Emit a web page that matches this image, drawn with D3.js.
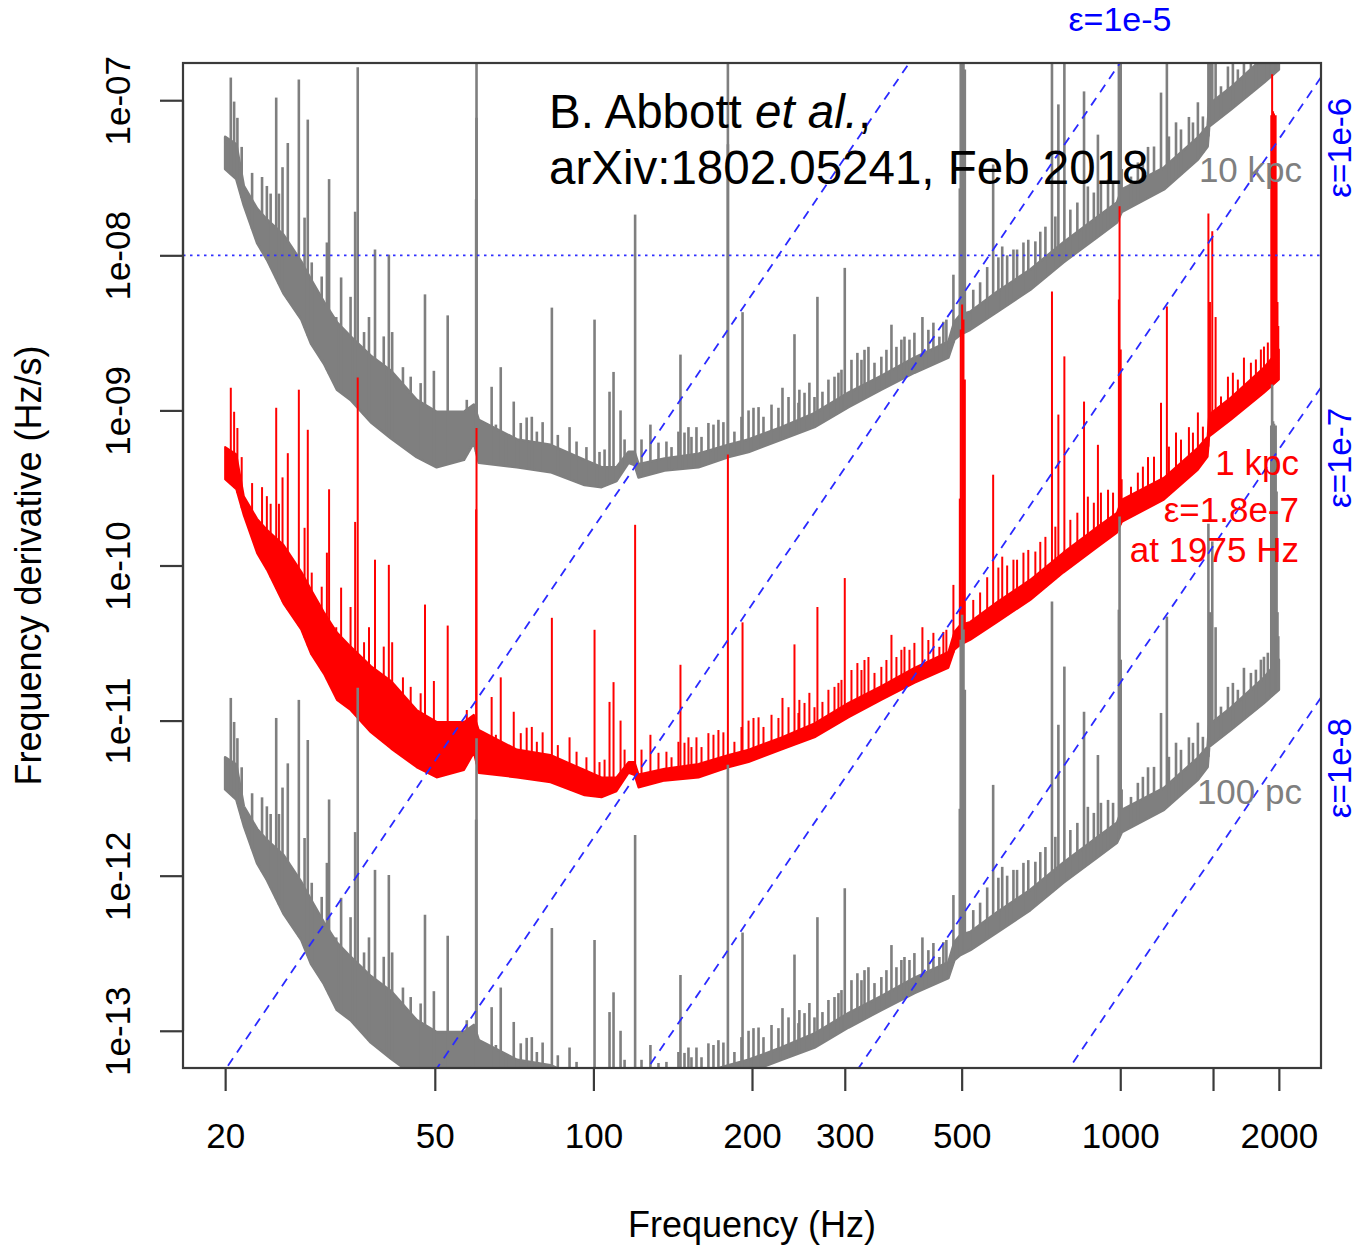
<!DOCTYPE html>
<html><head><meta charset="utf-8">
<script src="https://cdn.jsdelivr.net/npm/d3@7"></script>
<style>
body{margin:0;background:#fff}
text{font-family:"Liberation Sans",Arial,Helvetica,sans-serif}
</style>
</head><body>
<svg id="chart" width="1359" height="1245"></svg>
<script>
// ---------------- DATA ----------------
const xTicks = [20, 50, 100, 200, 300, 500, 1000, 1500, 2000];
const xTickLabels = ["20", "50", "100", "200", "300", "500", "1000", "", "2000"];
const yTicks = [1e-13, 1e-12, 1e-11, 1e-10, 1e-9, 1e-8, 1e-7];
const yTickLabels = ["1e-13", "1e-12", "1e-11", "1e-10", "1e-09", "1e-08", "1e-07"];

// 1 kpc curve: [frequency Hz, lower edge Hz/s, upper edge of noise band Hz/s]
const band1kpc = [
  [20.0, 3.6e-10, 5.8e-10], [21.0, 3.1e-10, 5.2e-10], [21.7, 2.1e-10, 2.8e-10],
  [23.0, 1.2e-10, 2.0e-10], [24.0, 9.4e-11, 1.7e-10], [25.8, 5.7e-11, 1.36e-10],
  [27.9, 3.85e-11, 9.1e-11], [29.1, 2.7e-11, 7.0e-11], [30.8, 2.0e-11, 5.0e-11],
  [32.6, 1.36e-11, 3.7e-11], [34.6, 1.17e-11, 3.0e-11], [37.8, 8.4e-12, 2.25e-11],
  [41.3, 6.6e-12, 1.8e-11], [46.2, 5.0e-12, 1.17e-11], [50.4, 4.3e-12, 9.8e-12],
  [56.8, 4.8e-12, 9.8e-12], [59.3, 6.2e-12, 1.09e-11], [60.6, 4.6e-12, 8.7e-12],
  [71.6, 4.3e-12, 6.5e-12], [82.9, 4.0e-12, 6.0e-12], [96.2, 3.3e-12, 4.8e-12],
  [103.6, 3.2e-12, 4.3e-12], [110.6, 3.5e-12, 4.3e-12], [116.6, 4.6e-12, 5.4e-12],
  [119.7, 4.45e-12, 5.4e-12], [121.8, 3.7e-12, 4.5e-12], [136.5, 4.1e-12, 4.9e-12],
  [158.3, 4.3e-12, 5.25e-12], [180.5, 5.0e-12, 6.0e-12], [197, 5.4e-12, 6.5e-12],
  [227.5, 6.5e-12, 7.8e-12], [262.8, 7.8e-12, 9.6e-12], [304.9, 1.05e-11, 1.3e-11],
  [352, 1.36e-11, 1.67e-11], [406.7, 1.75e-11, 2.19e-11], [471.8, 2.19e-11, 2.77e-11],
  [484.4, 2.86e-11, 3.73e-11], [497, 3.08e-11, 4.14e-11], [519, 3.31e-11, 4.33e-11],
  [584.6, 4.33e-11, 5.83e-11], [675, 6.0e-11, 8.1e-11], [779.6, 9.0e-11, 1.21e-10],
  [907, 1.32e-10, 1.78e-10], [985.7, 1.63e-10, 2.19e-10], [1007, 1.91e-10, 2.66e-10],
  [1210.6, 2.66e-10, 3.68e-10], [1404, 4.15e-10, 5.75e-10], [1465, 5.03e-10, 6.78e-10],
  [1475, 6.78e-10, 9.4e-10], [1622, 8.72e-10, 1.21e-9], [1874, 1.30e-9, 1.89e-9],
  [2000, 1.58e-9, 2.47e-9]
];

// 1 kpc curve: narrow spectral lines [frequency Hz, peak Hz/s]
const lines1kpc = [
  [20.5, 1.40e-9], [20.8, 9.8e-10], [21.1, 7.7e-10], [21.5, 5.0e-10], [22.5, 3.4e-10],
  [23.5, 3.2e-10], [24.0, 2.8e-10], [24.4, 2.5e-10], [25.0, 1.04e-9], [25.3, 2.5e-10],
  [25.7, 3.7e-10], [26.3, 5.3e-10], [27.6, 1.36e-9], [28.3, 1.75e-10], [28.7, 7.5e-10],
  [29.2, 9.0e-11], [30.5, 7.3e-11], [31.2, 1.21e-10], [31.5, 3.1e-10], [32.5, 4.0e-11],
  [33.2, 7.2e-11], [34.6, 5.4e-11], [35.3, 1.91e-10], [35.7, 1.63e-9], [36.7, 3.2e-11],
  [37.5, 4.0e-11], [38.5, 1.09e-10], [40.0, 3.0e-11], [40.9, 1.01e-10], [41.5, 3.2e-11],
  [43.5, 1.9e-11], [45.0, 1.65e-11], [47.0, 1.5e-11], [47.9, 5.6e-11], [49.8, 1.8e-11],
  [52.9, 4.1e-11], [57.5, 1.17e-11], [59.9, 2.3e-10], [60.0, 7.7e-10], [64.1, 1.42e-11],
  [65.3, 8.1e-12], [66.7, 1.9e-11], [68.2, 6.95e-12], [70.6, 1.14e-11], [72.8, 8.3e-12],
  [74.7, 9.0e-12], [76.4, 9.1e-12], [78.1, 7.3e-12], [80.1, 8.4e-12], [83.4, 4.6e-11],
  [85.6, 6.95e-12], [90.1, 7.8e-12], [92.9, 6.3e-12], [97, 5.8e-12], [100.5, 3.85e-11],
  [102.7, 5.4e-12], [105, 5.6e-12], [107.3, 1.32e-11], [109.2, 1.77e-11], [112.6, 1.0e-11],
  [114.6, 6.5e-12], [120, 1.83e-10], [123.4, 6.5e-12], [128.3, 8.1e-12], [132.9, 6.2e-12],
  [137.6, 6.3e-12], [140.7, 5.8e-12], [145, 7.3e-12], [146.3, 2.29e-11], [148.9, 7.2e-12],
  [151.5, 7.8e-12], [153.5, 6.75e-12], [156.9, 7.8e-12], [160.4, 6.75e-12], [165.3, 8.3e-12],
  [169, 8.1e-12], [172.7, 8.7e-12], [176.5, 8.4e-12], [180, 5.2e-10], [185.2, 7.3e-12],
  [191, 9.1e-12], [191.9, 4.3e-11], [197, 1.0e-11], [201.3, 1.04e-11], [205.8, 1.05e-11],
  [210.3, 9.1e-12], [217.8, 1.09e-11], [224.5, 1.04e-11], [228.5, 1.4e-11], [234.6, 1.22e-11],
  [240.8, 3.1e-11], [245, 1.12e-11], [246, 1.36e-11], [251.6, 1.3e-11], [257, 1.51e-11],
  [262.8, 1.22e-11], [266.2, 5.4e-11], [272.1, 1.32e-11], [279.3, 1.58e-11], [286.8, 1.65e-11],
  [291.8, 1.75e-11], [295.7, 1.83e-11], [300, 8.3e-11], [308.9, 2.12e-11], [317, 2.35e-11],
  [322.7, 2.12e-11], [327, 2.46e-11], [332.7, 2.57e-11], [341.6, 2.03e-11], [352, 2.22e-11],
  [359.9, 2.46e-11], [367.9, 3.57e-11], [376, 2.57e-11], [384.2, 2.86e-11], [389.4, 2.99e-11],
  [398, 2.86e-11], [406.7, 3.17e-11], [421.2, 4.0e-11], [432.3, 3.31e-11], [441.9, 3.68e-11],
  [453.6, 2.99e-11], [461.6, 3.73e-11], [467.7, 3.85e-11], [482.3, 7.5e-11], [496, 2.7e-10],
  [498, 3.32e-9], [501, 4.82e-9], [504, 3.86e-9], [507, 1.58e-9], [526, 6.0e-11],
  [542, 6.7e-11], [559, 8.4e-11], [573.8, 3.85e-10], [587, 9.7e-11], [597, 1.14e-10],
  [610, 1.0e-10], [627, 1.09e-10], [637, 1.09e-10], [655, 1.21e-10], [669, 1.26e-10],
  [690, 1.23e-10], [705, 1.42e-10], [721, 1.53e-10], [742, 5.85e-9], [753, 1.78e-10],
  [763, 9.4e-10], [783.3, 2.23e-9], [804, 1.97e-10], [829, 2.19e-10], [853.6, 1.14e-9],
  [868, 2.78e-10], [891, 2.54e-10], [907, 6.0e-10], [919, 2.95e-10], [948, 3.08e-10],
  [969, 2.95e-10], [994, 5.19e-9], [997, 2.07e-8], [1002, 2.47e-9], [1006, 3.6e-10],
  [1048, 3.22e-10], [1080, 3.97e-10], [1104, 4.34e-10], [1129, 5.0e-10], [1159, 5.03e-10],
  [1195, 1.12e-9], [1226, 4.68e-9], [1237, 5.84e-10], [1276, 7.2e-10], [1304, 6.48e-10],
  [1350, 7.8e-10], [1374, 7.19e-10], [1404, 9.7e-10], [1435, 7.86e-10], [1470, 1.86e-8],
  [1480, 5.0e-9], [1495, 1.43e-8], [1517, 4.0e-9], [1553, 1.23e-9], [1601, 1.65e-9],
  [1636, 1.75e-9], [1672, 1.58e-9], [1717, 2.19e-9], [1770, 2.03e-9], [1809, 2.13e-9],
  [1849, 2.47e-9], [1874, 2.58e-9], [1906, 2.74e-9], [1935, 8.0e-8], [1942, 1.47e-7],
  [1950, 8.5e-8], [1958, 8.2e-8], [1965, 6.5e-8], [1972, 8.0e-8], [1980, 3.0e-8],
  [1988, 5.0e-9], [1995, 3.5e-9]
];

// additional tall lines seen only on the 10 kpc curve
const extraLines10kpc = [[60, 2e-7], [180, 2e-7]];

// distance curves: name and scale relative to the 1 kpc curve (h0^2 d^2)
const curveNames = ["10 kpc", "1 kpc", "100 pc"];
const curveScale = [100, 1, 0.01];

// ellipticity (spin-down) lines: fdot = K * eps^2 * f^5
const spindownK = 1.75e-12;
const epsValues = [1e-4, 1e-5, 1e-6, 1e-7, 1e-8];
const epsTopLabels = [1e-5];
const epsRightLabels = [1e-6, 1e-7, 1e-8];
const epsRightLabelFreq = 1950;
const refLevel = 1e-8;

const epsText = e => "\u03b5=1e-" + Math.round(-Math.log10(e));
const annotation1 = ["B. Abbott ", "et al.", ","];
const annotation2 = "arXiv:1802.05241, Feb 2018";
const curveLabel10 = ["10 kpc"];
const curveLabel1 = ["1 kpc", "\u03b5=1.8e-7", "at 1975 Hz"];
const curveLabel100 = ["100 pc"];

// ---------------- LAYOUT / STYLE ----------------
const svg = d3.select("#chart");
const L = 183, R = 1321, T = 63, B = 1068;
const FONT = 35;
const colors = ["#7f7f7f", "#ff0000", "#7f7f7f"];
const widths = [2.6, 2.0, 2.6];

const x = d3.scaleLog()
  .domain([20 / Math.pow(10, 0.08), 2000 * Math.pow(10, 0.08)])
  .range([L, R]);
const y = d3.scaleLog()
  .domain([1e-13 / Math.pow(10, 0.24), 1e-7 * Math.pow(10, 0.24)])
  .range([B, T]);

svg.append("defs").append("clipPath").attr("id", "clip")
  .append("rect").attr("x", L).attr("y", T).attr("width", R - L).attr("height", B - T);

const plot = svg.append("g").attr("clip-path", "url(#clip)");

// floor interpolation (log-log) for spike bases
const floorInterp = d3.scaleLog()
  .domain(band1kpc.map(d => d[0]))
  .range(band1kpc.map(d => Math.log10(d[1])))
  .clamp(true);

[0, 1, 2].forEach(ci => {
  const s = curveScale[ci];
  const g = plot.append("g").attr("class", "curve").attr("data-name", curveNames[ci]);
  const area = d3.area()
    .x(d => x(d[0])).y0(d => y(d[1] * s)).y1(d => y(d[2] * s));
  g.append("path").datum(band1kpc).attr("d", area)
    .attr("fill", colors[ci]).attr("stroke", colors[ci])
    .attr("stroke-width", widths[ci]).attr("stroke-linejoin", "round");
  let spikes = lines1kpc.slice();
  if (ci === 0) spikes = spikes.concat(extraLines10kpc);
  g.selectAll("line.sp").data(spikes).join("line")
    .attr("x1", d => x(d[0])).attr("x2", d => x(d[0]))
    .attr("y1", d => y(Math.pow(10, floorInterp(d[0])) * s))
    .attr("y2", d => y(d[1] * s))
    .attr("stroke", colors[ci]).attr("stroke-width", widths[ci]);
});

// reference dotted line
plot.append("line")
  .attr("x1", L).attr("x2", R).attr("y1", y(refLevel)).attr("y2", y(refLevel))
  .attr("stroke", "#3030ff").attr("stroke-width", 1.8).attr("stroke-dasharray", "2.5,4.5");

// ellipticity dashed lines
const fd = x.domain();
const epsLine = d3.line().x(d => x(d[0])).y(d => y(d[1]));
epsValues.forEach(e => {
  const pts = [fd[0], fd[1]].map(f => [f, spindownK * e * e * Math.pow(f, 5)]);
  plot.append("path").attr("d", epsLine(pts)).attr("fill", "none")
    .attr("stroke", "#2a2aff").attr("stroke-width", 1.8).attr("stroke-dasharray", "9,7");
});

// box
svg.append("rect").attr("x", L).attr("y", T).attr("width", R - L).attr("height", B - T)
  .attr("fill", "none").attr("stroke", "#3a3a3a").attr("stroke-width", 2.2);

// axes
const xAxis = svg.append("g").attr("transform", `translate(0,${B})`)
  .call(d3.axisBottom(x).tickValues(xTicks).tickSize(23).tickSizeOuter(0)
    .tickFormat((d, i) => xTickLabels[i]));
xAxis.select(".domain").attr("d", `M${x(20)},0H${x(2000)}`).attr("stroke", "#3a3a3a").attr("stroke-width", 2.2);
xAxis.selectAll(".tick line").attr("stroke", "#3a3a3a").attr("stroke-width", 2.2);
xAxis.selectAll(".tick text").attr("y", 80).attr("dy", null)
  .style("font-size", FONT + "px").style("font-family", '"Liberation Sans",Arial,sans-serif').attr("fill", "#000");

const yAxis = svg.append("g").attr("transform", `translate(${L},0)`)
  .call(d3.axisLeft(y).tickValues(yTicks).tickSize(23).tickSizeOuter(0)
    .tickFormat((d, i) => yTickLabels[i]));
yAxis.select(".domain").attr("d", `M0,${y(1e-13)}V${y(1e-7)}`).attr("stroke", "#3a3a3a").attr("stroke-width", 2.2);
yAxis.selectAll(".tick line").attr("stroke", "#3a3a3a").attr("stroke-width", 2.2);
yAxis.selectAll(".tick text").attr("x", 0).attr("y", -53).attr("dy", null)
  .attr("transform", "rotate(-90)").attr("text-anchor", "middle")
  .style("font-size", FONT + "px").style("font-family", '"Liberation Sans",Arial,sans-serif').attr("fill", "#000");

// axis titles
svg.append("text").attr("x", (L + R) / 2).attr("y", 1237).attr("text-anchor", "middle")
  .style("font-size", "36px").text("Frequency (Hz)");
svg.append("text").attr("transform", `translate(41,${(T + B) / 2}) rotate(-90)`)
  .attr("text-anchor", "middle").style("font-size", "36px").text("Frequency derivative (Hz/s)");

// epsilon labels
epsTopLabels.forEach(e => {
  const f = Math.pow(y.domain()[1] / (spindownK * e * e), 0.2);
  svg.append("text").attr("x", x(f)).attr("y", 31).attr("text-anchor", "middle")
    .attr("fill", "#0000ff").style("font-size", "34px").text(epsText(e));
});
epsRightLabels.forEach(e => {
  const v = spindownK * e * e * Math.pow(epsRightLabelFreq, 5);
  svg.append("text").attr("transform", `translate(1351,${y(v)}) rotate(-90)`)
    .attr("text-anchor", "middle").attr("fill", "#0000ff").style("font-size", "33px").text(epsText(e));
});

// annotation
const a1 = svg.append("text").attr("x", 549).attr("y", 128).style("font-size", "47.5px").attr("fill", "#000");
a1.append("tspan").text(annotation1[0]);
a1.append("tspan").style("font-style", "italic").text(annotation1[1]);
a1.append("tspan").text(annotation1[2]);
svg.append("text").attr("x", 549).attr("y", 184).style("font-size", "47.5px").attr("fill", "#000").text(annotation2);

// curve labels
svg.append("text").attr("x", 1302).attr("y", 182).attr("text-anchor", "end")
  .attr("fill", colors[0]).style("font-size", FONT + "px").text(curveLabel10[0]);
[475, 522, 562].forEach((yy, i) => {
  svg.append("text").attr("x", 1299).attr("y", yy).attr("text-anchor", "end")
    .attr("fill", colors[1]).style("font-size", FONT + "px").text(curveLabel1[i]);
});
svg.append("text").attr("x", 1302).attr("y", 804).attr("text-anchor", "end")
  .attr("fill", colors[2]).style("font-size", FONT + "px").text(curveLabel100[0]);
</script>
</body></html>
